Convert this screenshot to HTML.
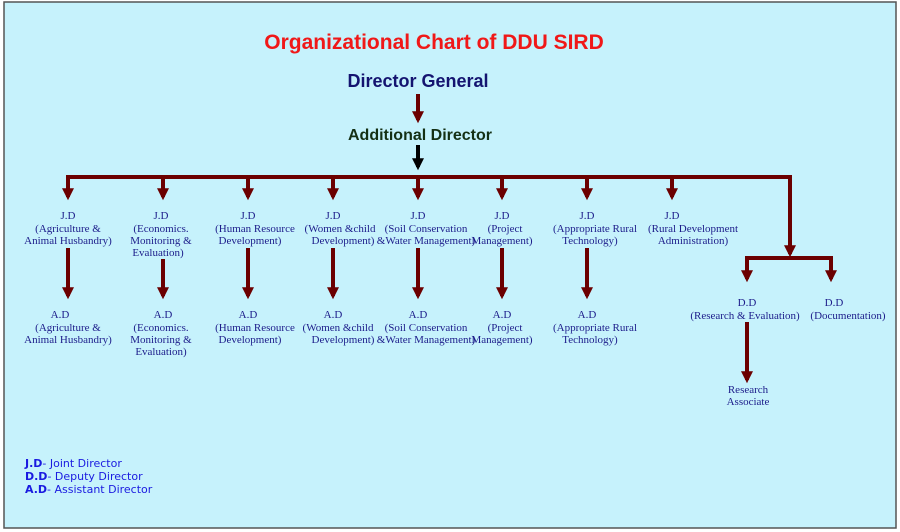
<!DOCTYPE html>
<html><head><style>
body{margin:0;background:#fff;}
svg{display:block}
.s{font-family:"Liberation Serif",serif;font-size:11px;fill:#1c1c8a;text-anchor:middle}
.l{font-family:"DejaVu Sans","Liberation Sans",sans-serif;font-size:11px;fill:#1a1ae0}
</style></head><body>
<svg width="900" height="532" viewBox="0 0 900 532" xmlns="http://www.w3.org/2000/svg">
<defs>
<marker id="a" markerWidth="4" markerHeight="4" refX="2.2" refY="2" orient="auto" markerUnits="strokeWidth"><path d="M0,0.5 L3,2 L0,3.5Z" fill="#6b0000"/></marker>
<marker id="b" markerWidth="4" markerHeight="4" refX="2.2" refY="2" orient="auto" markerUnits="strokeWidth"><path d="M0,0.5 L3,2 L0,3.5Z" fill="#000"/></marker>
</defs>
<rect x="4" y="2" width="892" height="526" fill="#c6f2fc" stroke="#555" stroke-width="1.5"/>
<text x="434" y="49" font-family="Liberation Sans,sans-serif" font-weight="bold" font-size="21" fill="#f01818" text-anchor="middle">Organizational Chart of DDU SIRD</text>
<text x="418" y="87" font-family="Liberation Sans,sans-serif" font-weight="bold" font-size="18" fill="#141470" text-anchor="middle">Director General</text>
<text x="420" y="140" font-family="Liberation Sans,sans-serif" font-weight="bold" font-size="16" fill="#143014" text-anchor="middle">Additional Director</text>
<g stroke="#6b0000" stroke-width="4" fill="none">
<line x1="418" y1="94" x2="418" y2="120" marker-end="url(#a)"/>
<line x1="418" y1="145" x2="418" y2="167" stroke="#000" marker-end="url(#b)"/>
<polyline points="68,196 68,177 790,177 790,252"/>
<line x1="68" y1="177" x2="68" y2="197" marker-end="url(#a)"/>
<line x1="163" y1="177" x2="163" y2="197" marker-end="url(#a)"/>
<line x1="248" y1="177" x2="248" y2="197" marker-end="url(#a)"/>
<line x1="333" y1="177" x2="333" y2="197" marker-end="url(#a)"/>
<line x1="418" y1="177" x2="418" y2="197" marker-end="url(#a)"/>
<line x1="502" y1="177" x2="502" y2="197" marker-end="url(#a)"/>
<line x1="587" y1="177" x2="587" y2="197" marker-end="url(#a)"/>
<line x1="672" y1="177" x2="672" y2="197" marker-end="url(#a)"/>
<line x1="790" y1="177" x2="790" y2="254" marker-end="url(#a)"/>
<polyline points="747,278 747,258 831,258 831,278"/>
<line x1="747" y1="258" x2="747" y2="279" marker-end="url(#a)"/>
<line x1="831" y1="258" x2="831" y2="279" marker-end="url(#a)"/>
<line x1="68" y1="248" x2="68" y2="296" marker-end="url(#a)"/>
<line x1="163" y1="259" x2="163" y2="296" marker-end="url(#a)"/>
<line x1="248" y1="248" x2="248" y2="296" marker-end="url(#a)"/>
<line x1="333" y1="248" x2="333" y2="296" marker-end="url(#a)"/>
<line x1="418" y1="248" x2="418" y2="296" marker-end="url(#a)"/>
<line x1="502" y1="248" x2="502" y2="296" marker-end="url(#a)"/>
<line x1="587" y1="248" x2="587" y2="296" marker-end="url(#a)"/>
<line x1="747" y1="322" x2="747" y2="380" marker-end="url(#a)"/>
</g>
<g class="s">
<text x="68" y="219">J.D</text><text x="68" y="232">(Agriculture &amp;</text><text x="68" y="244">Animal Husbandry)</text>
<text x="161" y="219">J.D</text><text x="161" y="232">(Economics.</text><text x="161" y="244">Monitoring &amp;</text><text x="158" y="256">Evaluation)</text>
<text x="248" y="219">J.D</text><text x="255" y="232">(Human Resource</text><text x="250" y="244">Development)</text>
<text x="333" y="219">J.D</text><text x="340" y="232">(Women &amp;child</text><text x="343" y="244">Development)</text>
<text x="418" y="219">J.D</text><text x="426" y="232">(Soil Conservation</text><text x="426" y="244">&amp;Water Management)</text>
<text x="502" y="219">J.D</text><text x="505" y="232">(Project</text><text x="502" y="244">Management)</text>
<text x="587" y="219">J.D</text><text x="595" y="232">(Appropriate Rural</text><text x="590" y="244">Technology)</text>
<text x="672" y="219">J.D</text><text x="693" y="232">(Rural Development</text><text x="693" y="244">Administration)</text>
<text x="60" y="318">A.D</text><text x="68" y="331">(Agriculture &amp;</text><text x="68" y="343">Animal Husbandry)</text>
<text x="163" y="318">A.D</text><text x="161" y="331">(Economics.</text><text x="161" y="343">Monitoring &amp;</text><text x="161" y="355">Evaluation)</text>
<text x="248" y="318">A.D</text><text x="255" y="331">(Human Resource</text><text x="250" y="343">Development)</text>
<text x="333" y="318">A.D</text><text x="338" y="331">(Women &amp;child</text><text x="343" y="343">Development)</text>
<text x="418" y="318">A.D</text><text x="426" y="331">(Soil Conservation</text><text x="426" y="343">&amp;Water Management)</text>
<text x="502" y="318">A.D</text><text x="505" y="331">(Project</text><text x="502" y="343">Management)</text>
<text x="587" y="318">A.D</text><text x="595" y="331">(Appropriate Rural</text><text x="590" y="343">Technology)</text>
<text x="747" y="306">D.D</text><text x="745" y="319">(Research &amp; Evaluation)</text>
<text x="834" y="306">D.D</text><text x="848" y="319">(Documentation)</text>
<text x="748" y="393">Research</text><text x="748" y="405">Associate</text>
</g>
<g class="l">
<text x="25" y="467"><tspan font-weight="bold">J.D</tspan>- Joint Director</text>
<text x="25" y="480"><tspan font-weight="bold">D.D</tspan>- Deputy Director</text>
<text x="25" y="493"><tspan font-weight="bold">A.D</tspan>- Assistant Director</text>
</g>
</svg>
</body></html>
